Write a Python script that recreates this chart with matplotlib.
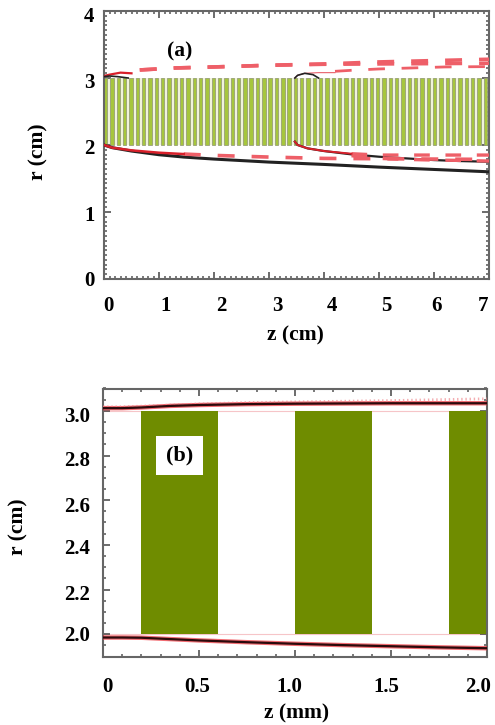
import matplotlib
matplotlib.use('Agg')
import matplotlib.pyplot as plt
from matplotlib.ticker import MultipleLocator, AutoMinorLocator
from matplotlib.transforms import ScaledTranslation

plt.rcParams['font.family'] = ['Liberation Serif', 'DejaVu Serif']
plt.rcParams['font.weight'] = 'bold'
plt.rcParams['axes.labelweight'] = 'bold'

# panel (a), z and r in cm
cells_a = [0.00, 0.115, 0.23, 0.345, 0.46, 0.575, 0.69, 0.805, 0.92, 1.035,
           1.15, 1.265, 1.38, 1.495, 1.61, 1.725, 1.84, 1.955, 2.07, 2.185,
           2.30, 2.415, 2.53, 2.645, 2.76, 2.875, 2.99, 3.105, 3.22, 3.335,
           3.45, 3.565, 3.68, 3.795, 3.91, 4.025, 4.14, 4.255, 4.37, 4.485,
           4.60, 4.715, 4.83, 4.945, 5.06, 5.175, 5.29, 5.405, 5.52, 5.635,
           5.75, 5.865, 5.98, 6.095, 6.21, 6.325, 6.44, 6.555, 6.67, 6.785, 6.90]

z_low = [0, 0.15, 0.5, 1.0, 1.45, 2.0, 3.0, 4.0, 5.0, 6.0, 7.0]
r_black_low = [2.0, 1.96, 1.91, 1.855, 1.82, 1.79, 1.745, 1.71, 1.67, 1.635, 1.60]
r_red_low = [2.0, 1.96, 1.92, 1.885, 1.865, 1.845, 1.82, 1.80, 1.795, 1.79, 1.785]

z_low2 = [3.47, 3.52, 3.7, 4.0, 4.5, 5.0, 5.5, 6.0, 6.5, 7.0]
r_black_low2 = [2.05, 2.0, 1.95, 1.91, 1.86, 1.825, 1.80, 1.775, 1.76, 1.75]
r_red_low2 = [2.05, 2.0, 1.95, 1.91, 1.87, 1.85, 1.85, 1.85, 1.85, 1.85]
r_red_low3 = [2.05, 2.0, 1.94, 1.89, 1.84, 1.80, 1.785, 1.775, 1.77, 1.76]

z_up = [0, 0.1, 0.3, 0.65, 1.3, 2.0, 3.0, 4.0, 5.0, 6.0, 7.0]
r_red_up = [3.03, 3.06, 3.09, 3.12, 3.15, 3.165, 3.19, 3.21, 3.24, 3.26, 3.28]
r_red_up_b = [3.03, 3.06, 3.09, 3.12, 3.15, 3.165, 3.19, 3.205, 3.21, 3.215, 3.22]
z_up3 = [4.2, 4.5, 5.0, 5.6, 6.2, 7.0]
r_up3 = [3.10, 3.115, 3.135, 3.15, 3.165, 3.17]
z_arc1 = [0, 0.1, 0.25, 0.44]
r_arc1 = [3.02, 3.03, 3.02, 3.0]
z_arc1_red = [0, 0.1, 0.3, 0.5]
r_arc1_red = [3.03, 3.05, 3.08, 3.07]
z_arc2 = [3.47, 3.52, 3.65, 3.8, 3.9]
r_arc2 = [3.0, 3.04, 3.07, 3.05, 3.0]
z_arc2_red = [3.47, 3.52, 3.65, 3.9, 4.2]
r_arc2_red = [3.0, 3.04, 3.07, 3.08, 3.08]

# panel (b), z in mm and r in cm
cells_b = [0.2, 1.0, 1.8]
widths_b = [0.4, 0.4, 0.22]
z_b = [0, 0.1, 0.2, 0.35, 0.5, 0.75, 1.0, 1.25, 1.5, 1.75, 2.0]
r_b_up = [3.012, 3.012, 3.015, 3.022, 3.026, 3.030, 3.032, 3.033, 3.034, 3.034, 3.034]
r_b_up_red = [3.018, 3.018, 3.021, 3.026, 3.031, 3.037, 3.040, 3.043, 3.046, 3.050, 3.054]
r_b_low = [1.985, 1.985, 1.984, 1.978, 1.972, 1.964, 1.957, 1.951, 1.946, 1.941, 1.937]


def dress(ax, xminor, yminor_n):
    ax.xaxis.set_minor_locator(MultipleLocator(xminor))
    ax.yaxis.set_minor_locator(AutoMinorLocator(yminor_n))
    ax.tick_params(which='major', direction='in', top=True, right=True, length=5,
                   width=1.1, color='#444444', labelsize=15, pad=7)
    ax.tick_params(which='minor', direction='in', top=True, right=True, length=2.5,
                   width=1.1, color='#555555')
    for s in ax.spines.values():
        s.set_color('#666666')
        s.set_linewidth(1.5)


def shift_labels(fig, labels, dx, dy):
    for lab, a, b in zip(labels, dx, dy):
        lab.set_transform(lab.get_transform() + ScaledTranslation(a / 100, -b / 100, fig.dpi_scale_trans))


fig = plt.figure(figsize=(4.95, 7.25), dpi=100)
W, H = 495.0, 725.0

# (a)
ax1 = fig.add_axes([104 / W, 1 - 279 / H, 385 / W, 268 / H])
ax1.set_xlim(0, 7)
ax1.set_ylim(0, 4)
ax1.bar([0], [1.0], [7.0], bottom=[2.0], align='edge', color='#f0f3dc', zorder=1)
ax1.bar(cells_a, [1.0] * len(cells_a), [0.062] * len(cells_a), bottom=[2.0] * len(cells_a),
        align='edge', color='#a6c63c', edgecolor='#98a078', linewidth=0.6, zorder=2)

dash = (0, (4.7, 4.7))
red = '#ee5f68'
ax1.plot(z_up[3:], r_red_up[3:], color=red, lw=2.6, ls=dash, zorder=4)
ax1.plot(z_up[3:], r_red_up_b[3:], color=red, lw=2.6, ls=dash, zorder=4)
ax1.plot(z_up3, r_up3, color=red, lw=2.0, ls=(0, (6, 6)), zorder=4)
ax1.plot(z_low, r_black_low, color='#222222', lw=2.2, zorder=3)
ax1.plot(z_low2, r_black_low2, color='#222222', lw=1.6, zorder=3)
ax1.plot(z_low[4:], r_red_low[4:], color=red, lw=2.6, ls=dash, zorder=4)
ax1.plot(z_low[:5], r_red_low[:5], color='#d8202a', lw=1.8, zorder=4)
ax1.plot(z_low2[4:], r_red_low2[4:], color=red, lw=2.4, ls=dash, zorder=4)
ax1.plot(z_low2[4:], r_red_low3[4:], color=red, lw=2.4, ls=dash, zorder=4)
ax1.plot(z_low2[:5], r_red_low2[:5], color='#d8202a', lw=1.4, zorder=4)
ax1.plot(z_arc1_red, r_arc1_red, color='#d8202a', lw=1.6, zorder=4)
ax1.plot(z_arc1, r_arc1, color='#222222', lw=1.2, zorder=5)
ax1.plot(z_arc2_red, r_arc2_red, color='#e8606a', lw=0.8, zorder=4)
ax1.plot(z_arc2, r_arc2, color='#222222', lw=1.2, zorder=5)
ax1.text(1.38, 3.39, '(a)', ha='center', va='center', fontsize=15.5)
dress(ax1, 0.1, 14)
ax1.set_xticks([0, 1, 2, 3, 4, 5, 6, 7])
ax1.set_yticks([0, 1, 2, 3, 4])
ax1.set_xlabel('z (cm)', fontsize=15.5)
ax1.xaxis.set_label_coords(0.497, -0.172)
ax1.set_ylabel('r (cm)', fontsize=15.5)
ax1.yaxis.set_label_coords(-0.143, 0.474)
shift_labels(fig, ax1.get_xticklabels(), [4, 7, 7, 8, 8, 7, 3, -6], [7] * 8)
shift_labels(fig, ax1.get_yticklabels(), [0] * 5, [-1, 1, 2, 2, 4])

# (b)
ax2 = fig.add_axes([103 / W, 1 - 656.5 / H, 384 / W, 268 / H])
ax2.set_xlim(0, 2)
ax2.set_ylim(1.9, 3.1)
ax2.bar(cells_b, [1.0] * 3, widths_b, bottom=[2.0] * 3, align='edge', color='#6f8c00', zorder=2)
ax2.plot([0, 2], [3.0, 3.0], color='#f6c5c8', lw=0.8, zorder=1)
ax2.plot([0, 2], [2.0, 2.0], color='#f6c5c8', lw=0.8, zorder=1)
for rr in (r_b_up, r_b_low):
    ax2.plot(z_b, rr, color='#ee3a42', lw=3.2, alpha=0.75, zorder=3)
    ax2.plot(z_b, rr, color='#2a0a0c', lw=1.6, zorder=4)
ax2.plot(z_b, r_b_up_red, color='#f08a90', lw=2.0, ls=(0, (0.5, 1)), alpha=0.7, zorder=3)
ax2.text(0.4, 2.8, '(b)', ha='center', va='center', fontsize=16, zorder=6,
         bbox=dict(facecolor='white', edgecolor='none', pad=7))
dress(ax2, 0.1, 4)
ax2.set_xticks([0, 0.5, 1.0, 1.5, 2.0])
ax2.set_xticklabels(['0', '0.5', '1.0', '1.5', '2.0'])
ax2.set_yticks([2.0, 2.2, 2.4, 2.6, 2.8, 3.0])
ax2.set_xlabel('z (mm)', fontsize=15.5)
ax2.xaxis.set_label_coords(0.505, -0.177)
ax2.set_ylabel('r (cm)', fontsize=15.5)
ax2.yaxis.set_label_coords(-0.193, 0.483)
shift_labels(fig, ax2.get_xticklabels(), [4, -2, -6, -5, -9], [11] * 5)
shift_labels(fig, ax2.get_yticklabels(), [-3] * 6, [-1, 3, 2, 4, 3, 4])

fig.savefig('out.png', dpi=100)
